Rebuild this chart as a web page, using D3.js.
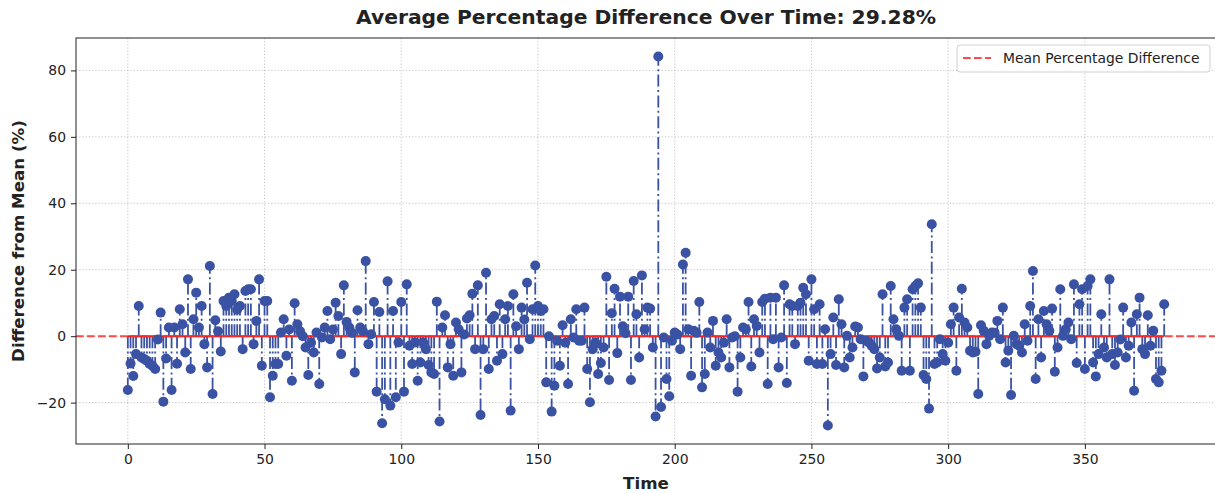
<!DOCTYPE html>
<html>
<head>
<meta charset="utf-8">
<script src="https://cdn.jsdelivr.net/npm/d3@7"></script>
<style>
  body { margin: 0; background: #fff; }
  svg text { font-family: "DejaVu Sans", sans-serif; fill: #222; }
</style>
</head>
<body>
<div id="chart"></div>
<script>
// values (difference from mean, %), one per time step
var diffs = [
  -16.2, -8.2, -12.0, -5.4, 9.1, -6.4, -6.9, -7.4, -8.4, -8.9,
  -9.9, -1.0, 7.1, -19.7, -6.7, 2.6, -16.2, 2.6, -8.3, 8.1,
  3.6, -4.9, 17.1, -9.9, 5.1, 13.1, 2.6, 9.1, -2.4, -9.4,
  21.1, -17.4, 4.8, 1.5, -4.6, 10.6, 9.1, 11.6, 10.6, 12.6,
  8.0, 9.1, -3.9, 13.6, 14.1, 14.1, -2.4, 4.6, 17.1, -8.9,
  10.6, 10.6, -18.4, -11.9, -8.4, -8.4, 1.1, 5.1, -5.9, 2.0,
  -13.4, 9.9, 3.6, 1.5, 0.0, -3.4, -11.7, -2.0, -4.9, 1.1,
  -14.4, -0.4, 2.6, 7.6, -0.9, 2.0, 10.1, 6.1, -5.4, 15.3,
  4.3, 2.6, 1.0, -10.9, 7.8, 2.6, 1.5, 22.6, -2.4, 0.6,
  10.3, -16.7, 7.3, -26.2, -19.0, 16.5, -20.9, 7.6, -18.4, -1.9,
  10.3, -16.7, 15.6, -2.9, -8.4, -1.9, -13.4, -7.9, -1.9, -3.9,
  -8.7, -10.9, -11.4, 10.4, -25.7, 2.6, 6.3, -9.4, -2.4, -11.9,
  4.1, 2.1, -10.9, 0.5, 5.3, 6.3, 12.8, -3.9, 15.3, -23.7,
  -3.9, 19.1, -9.9, 5.1, 6.1, -7.4, 9.6, -5.4, 5.1, 9.1,
  -22.4, 12.6, 3.0, -3.9, 8.6, 5.0, 16.1, -0.9, 8.1, 21.3,
  9.1, 7.6, 8.1, -13.9, 0.0, -22.7, -14.9, -1.4, -8.9, 3.3,
  -2.0, -14.4, 5.1, -0.4, 8.1, -1.4, -1.4, 8.6, -9.9, -19.9,
  -3.9, -2.0, -11.4, -8.1, -3.4, 17.9, -13.2, 6.9, 14.3, -5.1,
  11.9, 3.0, 0.9, 11.9, -13.2, 16.6, 6.6, -6.4, 18.3, 2.1,
  8.6, 8.3, -3.4, -24.2, 84.2, -21.3, -0.4, -12.9, -18.1, -1.4,
  1.1, 0.5, -3.9, 21.6, 25.1, 2.1, -11.9, 1.6, 1.0, 10.3,
  -15.4, -11.4, 1.1, -3.4, 4.6, -8.9, -4.9, -6.4, -2.0, 5.1,
  -9.4, -0.4, 0.0, -16.7, -6.4, 2.6, 2.1, 10.3, -9.1, 5.1,
  3.1, -4.9, 10.3, 11.3, -14.4, 11.6, -0.9, 11.6, -9.4, -0.4,
  15.3, -14.1, 9.6, 9.1, -2.4, 9.1, 10.1, 14.6, 12.6, -7.4,
  17.1, 8.1, -8.4, 9.6, -8.4, 2.1, -26.9, -5.4, 5.6, -8.7,
  11.1, 3.6, -9.4, 0.1, -6.4, -3.4, 2.9, 2.6, -0.9, -12.1,
  -1.4, -1.9, -2.9, -3.9, -9.7, -6.4, 12.6, -9.1, -7.9, 15.1,
  5.1, 2.1, 0.1, -10.4, 8.6, 11.1, -10.4, 14.1, 15.1, 15.9,
  8.6, -11.7, -12.9, -21.8, 33.7, -8.4, -7.9, -0.9, -5.4, -7.4,
  -2.0, 3.6, 8.6, -10.4, 5.6, 14.3, 4.1, 2.6, -4.4, -4.9,
  -4.7, -17.4, 3.3, 1.6, -2.4, 0.1, 1.1, 1.0, 4.6, -0.9,
  8.6, -7.9, -4.4, -17.7, 0.1, -2.4, -2.9, -4.9, 3.6, -1.4,
  9.1, 19.6, -12.9, 5.1, -6.4, 7.6, 3.6, 1.6, 8.3, -10.7,
  -3.4, 14.1, 0.1, 2.1, 4.1, -0.9, 15.6, -8.1, 9.6, 14.1,
  -9.9, 15.1, 17.1, -7.9, -12.1, -5.4, 6.6, -3.4, -6.4, 17.1,
  -5.4, -8.7, -4.9, -1.0, 8.6, -6.4, -2.9, 4.1, -16.4, 6.6,
  11.6, -3.9, -5.4, 6.3, -2.9, 1.6, -12.9, -13.9, -10.4, 9.6
];
var timeSteps = diffs.map(function(d, i) { return i; });
var xTicks = [0, 50, 100, 150, 200, 250, 300, 350];
var yTicks = [-20, 0, 20, 40, 60, 80];
var meanDiff = 0;
var titleText = "Average Percentage Difference Over Time: 29.28%";
var legendLabel = "Mean Percentage Difference";

var W = 1215, H = 493;
var plot = {left: 76, right: 1216, top: 38, bottom: 444};
var stemColor = "#3a52a3";

var svg = d3.select("#chart").append("svg")
  .attr("width", W)
  .attr("height", H);

// matplotlib style 5% padding on both axes
var xMin = d3.min(timeSteps), xMax = d3.max(timeSteps);
var xPad = (xMax - xMin) * 0.05;
var yMin = d3.min(diffs), yMax = d3.max(diffs);
var yPad = (yMax - yMin) * 0.05;

var x = d3.scaleLinear()
  .domain([xMin - xPad, xMax + xPad])
  .range([plot.left, plot.right]);
var y = d3.scaleLinear()
  .domain([yMin - yPad, yMax + yPad])
  .range([plot.bottom, plot.top]);

// grid
var grid = svg.append("g");
grid.selectAll(".gx").data(xTicks).join("line")
  .attr("x1", d => x(d)).attr("x2", d => x(d))
  .attr("y1", plot.top).attr("y2", plot.bottom);
grid.selectAll(".gy").data(yTicks).join("line")
  .attr("class", "gy")
  .attr("x1", plot.left).attr("x2", plot.right)
  .attr("y1", d => y(d)).attr("y2", d => y(d));
grid.selectAll("line")
  .attr("stroke", "#b0b0b0")
  .attr("stroke-opacity", 0.75)
  .attr("stroke-width", 1)
  .attr("stroke-dasharray", "1.2,2");

// stems
svg.append("g").selectAll("line").data(diffs).join("line")
  .attr("x1", (d, i) => x(timeSteps[i])).attr("x2", (d, i) => x(timeSteps[i]))
  .attr("y1", y(0)).attr("y2", d => y(d))
  .attr("stroke", stemColor)
  .attr("stroke-width", 1.8)
  .attr("stroke-dasharray", "12,3.4,2,3.4");

// baseline of the stem plot
svg.append("line")
  .attr("x1", x(xMin)).attr("x2", x(xMax))
  .attr("y1", y(0)).attr("y2", y(0))
  .attr("stroke", "#e8251f")
  .attr("stroke-width", 2);

// mean line
svg.append("line")
  .attr("x1", plot.left).attr("x2", plot.right)
  .attr("y1", y(meanDiff)).attr("y2", y(meanDiff))
  .attr("stroke", "#ff2a2a")
  .attr("stroke-opacity", 0.85)
  .attr("stroke-width", 2)
  .attr("stroke-dasharray", "7.7,3.3");

// markers
svg.append("g").selectAll("circle").data(diffs).join("circle")
  .attr("cx", (d, i) => x(timeSteps[i]))
  .attr("cy", d => y(d))
  .attr("r", 5)
  .attr("fill", stemColor);

// axes
var xAxis = svg.append("g")
  .attr("transform", "translate(0," + plot.bottom + ")")
  .call(d3.axisBottom(x).tickValues(xTicks).tickSize(5).tickPadding(5).tickFormat(d3.format("d")));
var yAxis = svg.append("g")
  .attr("transform", "translate(" + plot.left + ",0)")
  .call(d3.axisLeft(y).tickValues(yTicks).tickSize(5).tickPadding(5)
    .tickFormat(d => d < 0 ? "\u2212" + Math.abs(d) : d));
[xAxis, yAxis].forEach(function(a) {
  a.select(".domain").remove();
  a.selectAll("line").attr("stroke", "#222").attr("stroke-width", 1);
  a.selectAll("text").style("font-size", "13.9px").attr("fill", "#222");
});

// frame (right edge falls just outside the picture)
svg.append("rect")
  .attr("x", plot.left).attr("y", plot.top)
  .attr("width", plot.right - plot.left).attr("height", plot.bottom - plot.top)
  .attr("fill", "none")
  .attr("stroke", "#222")
  .attr("stroke-width", 1);

// title and labels
svg.append("text")
  .attr("x", (plot.left + plot.right) / 2).attr("y", 24)
  .attr("text-anchor", "middle")
  .style("font-size", "20.3px").style("font-weight", "bold")
  .text(titleText);
svg.append("text")
  .attr("x", (plot.left + plot.right) / 2).attr("y", 489)
  .attr("text-anchor", "middle")
  .style("font-size", "16.7px").style("font-weight", "bold")
  .text("Time");
svg.append("text")
  .attr("transform", "translate(24," + (plot.top + plot.bottom) / 2 + ") rotate(-90)")
  .attr("text-anchor", "middle")
  .style("font-size", "16.7px").style("font-weight", "bold")
  .text("Difference from Mean (%)");

// legend
var lg = svg.append("g").attr("transform", "translate(957,45)");
lg.append("rect")
  .attr("width", 253).attr("height", 27).attr("rx", 3)
  .attr("fill", "#fff").attr("fill-opacity", 0.8)
  .attr("stroke", "#d0d0d0");
lg.append("line")
  .attr("x1", 6).attr("x2", 34).attr("y1", 13).attr("y2", 13)
  .attr("stroke", "#ff2a2a").attr("stroke-opacity", 0.85)
  .attr("stroke-width", 2).attr("stroke-dasharray", "7.7,3.3");
lg.append("text")
  .attr("x", 46).attr("y", 18)
  .style("font-size", "13.9px")
  .text(legendLabel);
</script>
</body>
</html>
